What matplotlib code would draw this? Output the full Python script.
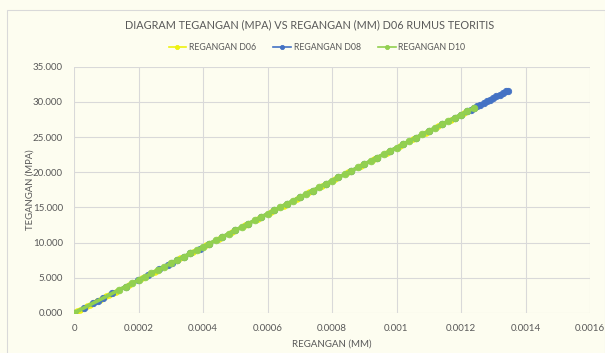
import matplotlib
matplotlib.use("Agg")
import matplotlib.pyplot as plt
from matplotlib.patches import Rectangle
from matplotlib.ticker import FixedLocator

# strain readings in microstrain, stress in MPa
d06_strain_ue = [0, 10, 20, 30, 40, 50, 60, 70, 80, 90, 100, 110, 120, 130,
                 170, 210, 250, 290, 330, 370, 410, 450, 490, 530, 570, 610,
                 650, 690, 730, 770, 810, 850, 890, 930, 970, 1010, 1050,
                 1090, 1130, 1170, 1210]
d06_stress = [0.000, 0.235, 0.470, 0.705, 0.940, 1.175, 1.410, 1.645, 1.880,
              2.115, 2.350, 2.585, 2.820, 3.055, 3.995, 4.935, 5.875, 6.815,
              7.755, 8.695, 9.635, 10.575, 11.515, 12.455, 13.395, 14.335,
              15.275, 16.215, 17.155, 18.095, 19.035, 19.975, 20.915, 21.855,
              22.795, 23.735, 24.675, 25.615, 26.555, 27.495, 28.435]

d08_strain_ue = [0, 31, 60, 75, 91, 119, 160, 198, 230, 264, 290, 305, 320,
                 340, 360, 390, 420, 460, 500, 540, 580, 620, 660, 700, 740,
                 780, 820, 860, 900, 940, 980, 1020, 1060, 1100, 1140, 1180,
                 1200, 1220, 1230, 1240, 1250, 1260, 1270, 1280, 1290, 1300,
                 1310, 1320, 1330, 1340, 1345]
d08_stress = [0.000, 0.729, 1.410, 1.763, 2.139, 2.797, 3.760, 4.653, 5.405,
              6.204, 6.815, 7.168, 7.520, 7.990, 8.460, 9.165, 9.870, 10.810,
              11.750, 12.690, 13.630, 14.570, 15.510, 16.450, 17.390, 18.330,
              19.270, 20.210, 21.150, 22.090, 23.030, 23.970, 24.910, 25.850,
              26.790, 27.730, 28.200, 28.670, 28.905, 29.140, 29.375, 29.610,
              29.845, 30.080, 30.315, 30.550, 30.785, 31.020, 31.255, 31.490,
              31.608]

d10_strain_ue = [0, 140, 160, 180, 200, 220, 240, 260, 280, 300, 320, 340,
                 360, 380, 400, 420, 440, 460, 480, 500, 520, 540, 560, 580,
                 600, 620, 640, 660, 680, 700, 720, 740, 760, 780, 800, 820,
                 840, 860, 880, 900, 920, 940, 960, 980, 1000, 1020, 1040,
                 1060, 1080, 1100, 1120, 1140, 1160, 1180, 1200, 1220, 1240]
d10_stress = [0.000, 3.290, 3.760, 4.230, 4.700, 5.170, 5.640, 6.110, 6.580,
              7.050, 7.520, 7.990, 8.460, 8.930, 9.400, 9.870, 10.340, 10.810,
              11.280, 11.750, 12.220, 12.690, 13.160, 13.630, 14.100, 14.570,
              15.040, 15.510, 15.980, 16.450, 16.920, 17.390, 17.860, 18.330,
              18.800, 19.270, 19.740, 20.210, 20.680, 21.150, 21.620, 22.090,
              22.560, 23.030, 23.500, 23.970, 24.440, 24.910, 25.380, 25.850,
              26.320, 26.790, 27.260, 27.730, 28.200, 28.670, 29.140]

x_ticks = [0, 0.0002, 0.0004, 0.0006, 0.0008, 0.001, 0.0012, 0.0014, 0.0016]
x_tick_labels = ["0", "0.0002", "0.0004", "0.0006", "0.0008", "0.001",
                 "0.0012", "0.0014", "0.0016"]
y_ticks = [0, 5, 10, 15, 20, 25, 30, 35]

TEXT = "#595959"
GRID = "#d9d9d9"
BG = "#fdfdf0"

plt.rcParams["font.family"] = ["Lato", "DejaVu Sans"]

W, H = 605, 353
fig = plt.figure(figsize=(W / 100, H / 100), dpi=100)
fig.patch.set_facecolor(BG)

# chart-area outline
fig.patches.append(Rectangle((7 / W, -0.01), (W - 7) / W, 1 - 10 / H + 0.01,
                             transform=fig.transFigure, fill=False,
                             edgecolor=GRID, linewidth=0.8, zorder=1))

ax = fig.add_axes([74 / W, 1 - 313 / H, (590 - 74) / W, (313 - 66.7) / H])
ax.set_facecolor("none")

series = [
    (d06_strain_ue, d06_stress, "REGANGAN D06", "#eef20f", 2.0, 4.0),
    (d08_strain_ue, d08_stress, "REGANGAN D08", "#4472c4", 2.2, 4.6),
    (d10_strain_ue, d10_stress, "REGANGAN D10", "#92d050", 2.6, 4.8),
]
for strain_ue, stress, label, color, lw, ms in series:
    strain = [s / 1e6 for s in strain_ue]
    ax.plot(strain, stress, color=color, linewidth=lw, marker="o",
            markersize=ms, markeredgewidth=0.6, markeredgecolor=color,
            label=label, zorder=3)

ax.set_xlim(0, 0.0016)
ax.set_ylim(0, 35)
ax.xaxis.set_major_locator(FixedLocator(x_ticks))
ax.set_xticklabels(x_tick_labels)
ax.yaxis.set_major_locator(FixedLocator(y_ticks))
ax.set_yticklabels([f"{v:.3f}" for v in y_ticks])
ax.grid(True, color=GRID, linewidth=0.8, zorder=0)
ax.set_axisbelow(True)
for sp in ax.spines.values():
    sp.set_visible(False)
ax.tick_params(length=0, labelsize=7, colors=TEXT)
ax.tick_params(axis="x", pad=8)
ax.tick_params(axis="y", pad=8)

ax.set_xlabel("REGANGAN (MM)", fontsize=7, color=TEXT)
ax.set_ylabel("TEGANGAN (MPA)", fontsize=6.8, color=TEXT)
ax.xaxis.set_label_coords(0.5, -0.106)
ax.yaxis.set_label_coords(-0.076, 0.5)

fig.text(310 / W, 1 - 25 / H,
         "DIAGRAM TEGANGAN (MPA) VS REGANGAN (MM) D06 RUMUS TEORITIS",
         fontsize=7.8, color=TEXT, ha="center", va="center")

handles, labels = ax.get_legend_handles_labels()
leg = fig.legend(handles, labels, loc="center", bbox_to_anchor=(317 / W, 1 - 48 / H),
                 ncol=3, frameon=False, fontsize=6.3, handlelength=2.0,
                 handletextpad=0.3, columnspacing=2.0, labelcolor=TEXT)
for h in leg.legend_handles:
    h.set_markersize(3)
    h.set_linewidth(1.2)

fig.savefig("out.png", dpi=100, facecolor=BG)
